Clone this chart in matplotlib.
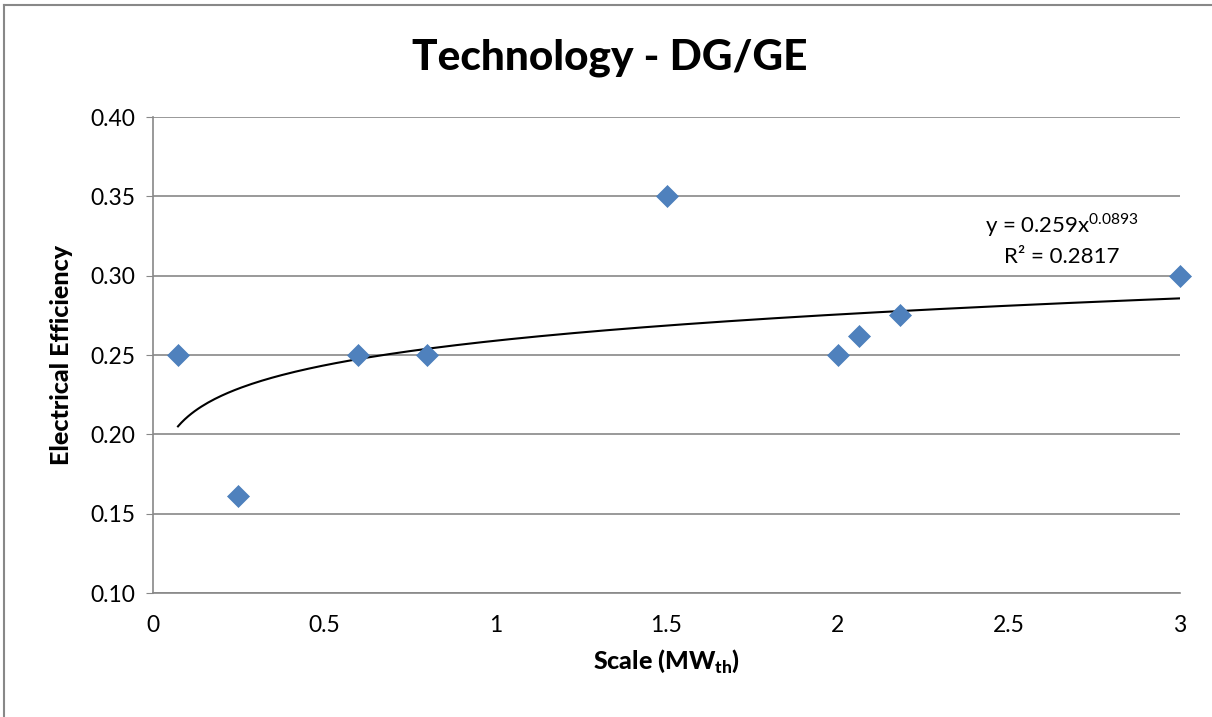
import matplotlib
matplotlib.use('Agg')
import matplotlib.pyplot as plt
import numpy as np
from matplotlib.lines import Line2D

plt.rcParams['font.family'] = ['Lato', 'DejaVu Sans']
plt.rcParams['mathtext.fontset'] = 'custom'
plt.rcParams['mathtext.rm'] = 'Lato'
plt.rcParams['mathtext.bf'] = 'Lato:black'

# data
scale_mw = [0.073, 0.248, 0.60, 0.80, 1.50, 2.00, 2.063, 2.183, 3.00]
efficiency = [0.25, 0.161, 0.25, 0.25, 0.35, 0.25, 0.262, 0.275, 0.30]

# power trendline as printed on the chart
trend_a = 0.259
trend_b = 0.0893
trend_r2 = 0.2817

x_ticks = [0, 0.5, 1, 1.5, 2, 2.5, 3]
x_tick_labels = ['0', '0.5', '1', '1.5', '2', '2.5', '3']
y_ticks = [0.10, 0.15, 0.20, 0.25, 0.30, 0.35, 0.40]

W, H = 1212, 717
fig = plt.figure(figsize=(W / 100, H / 100), dpi=100)
ax = fig.add_axes([153 / W, 1 - 593 / H, (1180 - 153) / W, (593 - 117) / H])

grid_col = '#888888'

# trendline
xs = np.linspace(min(scale_mw), max(scale_mw), 300)
ax.plot(xs, trend_a * xs ** trend_b, color='black', lw=1.5, zorder=3)

ax.scatter(scale_mw, efficiency, marker='D', s=125, color='#4F81BD',
           edgecolors='#4A7EBB', linewidths=0.5, zorder=4, clip_on=False)

ax.set_xlim(0, 3)
ax.set_ylim(0.10, 0.40)
ax.set_xticks(x_ticks)
ax.set_xticklabels(x_tick_labels)
ax.set_yticks(y_ticks)
ax.set_yticklabels([f'{v:.2f}' for v in y_ticks])
ax.yaxis.grid(True, color=grid_col, lw=1.2)
ax.set_axisbelow(True)

for side in ['top', 'right']:
    ax.spines[side].set_visible(False)
for side in ['left', 'bottom']:
    ax.spines[side].set_color(grid_col)
    ax.spines[side].set_linewidth(1.2)

ax.tick_params(axis='y', length=5, color=grid_col, labelsize=16.5, pad=8)
ax.tick_params(axis='x', length=0, labelsize=16.5, pad=16)

ax.set_xlabel(r'Scale (MW$_{\mathbf{th}}$)', fontsize=18, fontweight='black', labelpad=8)
ax.set_ylabel('Electrical Efficiency', fontsize=18, fontweight='black', labelpad=12)
fig.text(610 / W, 1 - 58 / H, 'Technology - DG/GE', fontsize=30.5, fontweight='black',
         ha='center', va='center')

fig.text(1062 / W, 1 - 225 / H, r'y = 0.259x$^{0.0893}$', fontsize=16, ha='center', va='center')
fig.text(1062 / W, 1 - 257 / H, f'R² = {trend_r2}', fontsize=16, ha='center', va='center')

# chart frame
fig.add_artist(Line2D([4 / W, 1], [1 - 5 / H, 1 - 5 / H], color=grid_col, lw=1.5))
fig.add_artist(Line2D([4 / W, 4 / W], [0, 1 - 5 / H], color=grid_col, lw=1.5))

fig.savefig('out.png', dpi=100)
